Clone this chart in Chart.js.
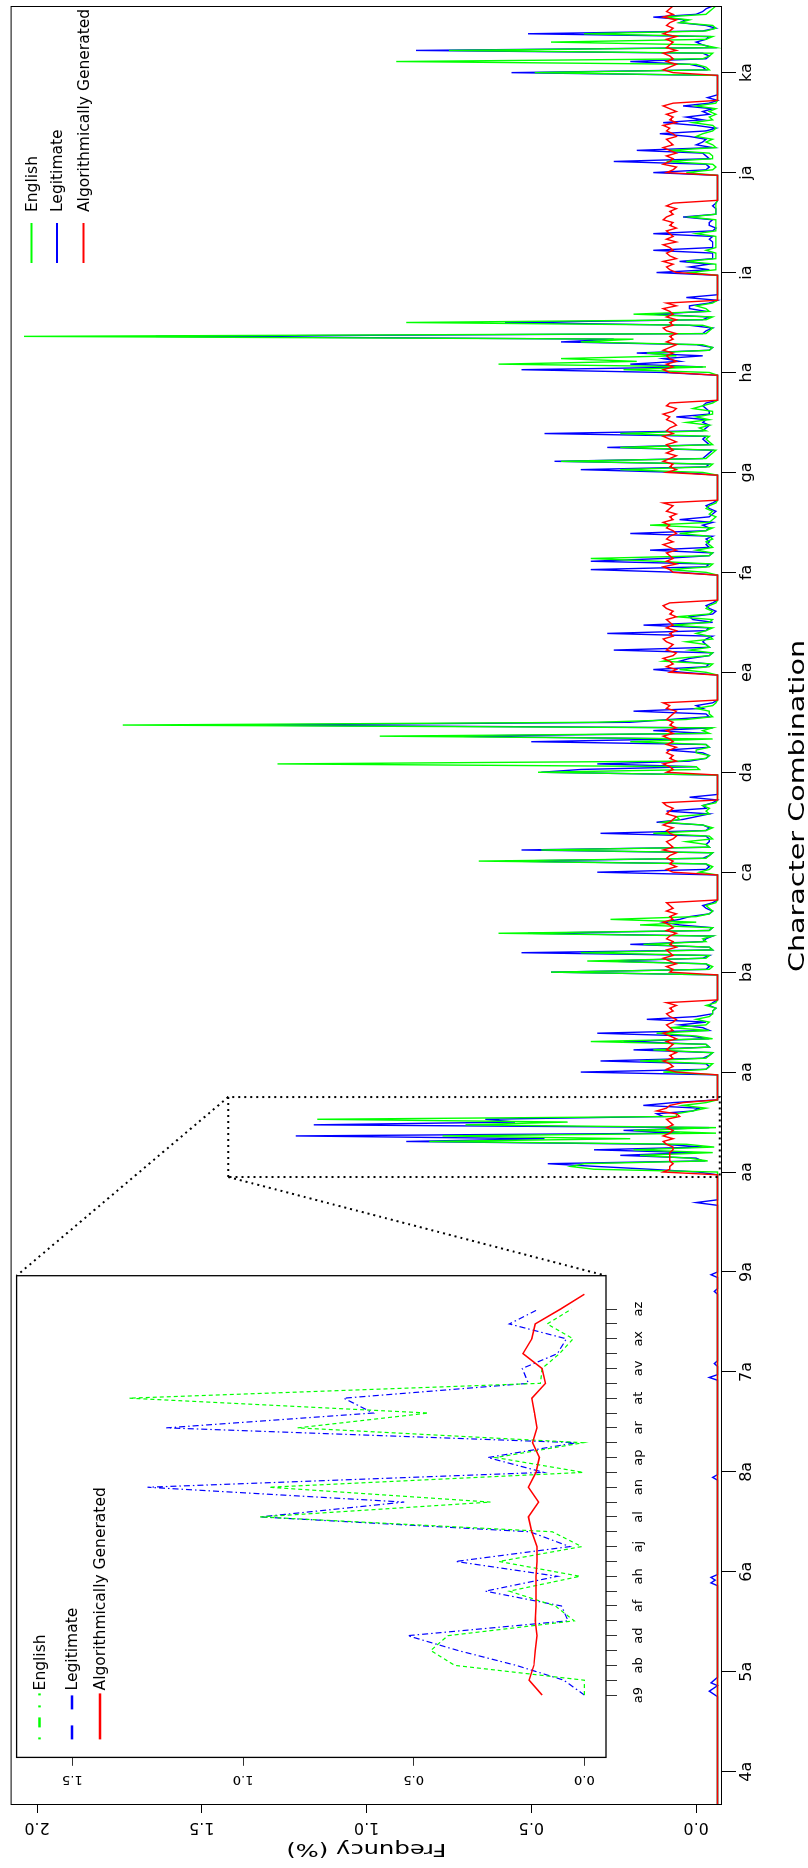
<!DOCTYPE html>
<html>
<head>
<meta charset="utf-8">
<script src="https://cdn.jsdelivr.net/npm/chart.js@4.4.1/dist/chart.umd.min.js"></script>
<style>
  html, body { margin: 0; padding: 0; background: #fff; }
  body { width: 808px; height: 1868px; overflow: hidden; position: relative; }
  #stage { position: absolute; left: 0; top: 0; width: 1868px; height: 808px;
           transform-origin: 0 0; transform: translateY(1868px) rotate(-90deg); }
  #main, #inset { position: absolute; left: 0; top: 0; }
</style>
</head>
<body>
<div id="stage">
  <canvas id="main" width="1868" height="808"></canvas>
  <canvas id="inset" width="700" height="700"></canvas>
</div>
<script>
// main chart: x = combination index, ticks every 36 combinations
const tickIdx = [12, 48, 84, 120, 156, 192, 228, 264, 300, 336, 372, 408, 444, 480, 516, 552, 588, 624];
const tickLabels = ['4a', '5a', '6a', '8a', '7a', '9a', 'aa', 'aa', 'ba', 'ca', 'da', 'ea', 'fa', 'ga', 'ha', 'ia', 'ja', 'ka'];
const yTicks = [0, 0.5, 1, 1.5, 2];
const baseline = -0.065;

// first index of each letter run (Xa..Xz); X0..X9 sit just before it
const blockStart = [228, 264, 300, 336, 372, 408, 444, 480, 516, 552, 588, 624];

const englishLetters = [
  [-0.065, 0.31, 0.38, 0.34, -0.035, 0.02, 0.17, -0.05, 0.19, -0.055, 0.03, 0.81, 0.2, 0.77, -0.06, 0.19, -0.06, 0.7, 0.39, 1.15, 0.06, 0.06, 0.01, -0.03, 0.04, -0.03],
  [0.1, -0.03, -0.04, -0.05, 0.17, -0.03, -0.04, -0.05, 0.13, -0.04, -0.03, 0.32, -0.05, 0.0, 0.12, -0.04, 0.08, -0.03, -0.04, 0.0, -0.04, -0.05, -0.05, -0.06, -0.03, -0.06],
  [0.44, -0.04, -0.05, -0.03, 0.33, -0.03, -0.04, 0.35, -0.05, -0.04, 0.16, -0.03, -0.02, -0.05, 0.6, -0.04, -0.05, 0.17, 0.0, 0.26, 0.0, -0.04, -0.05, -0.04, -0.03, -0.06],
  [-0.01, -0.04, -0.05, -0.03, 0.66, -0.03, -0.04, -0.05, 0.47, -0.04, -0.03, 0.03, -0.05, -0.04, 0.13, -0.03, -0.05, -0.02, 0.1, 0.05, 0.06, -0.04, -0.03, -0.04, -0.02, -0.06],
  [0.48, -0.01, 0.0, 1.27, 0.05, -0.03, -0.04, 0.0, 0.0, -0.04, -0.03, 0.2, -0.05, 0.96, -0.04, -0.02, -0.05, 1.74, 0.3, 0.03, -0.05, -0.04, -0.04, 0.0, -0.05, -0.06],
  [-0.03, 0.05, -0.04, -0.05, 0.1, 0.06, -0.04, -0.05, 0.02, -0.04, -0.03, 0.03, -0.05, -0.04, 0.0, -0.03, -0.05, 0.07, -0.04, -0.05, 0.06, -0.04, -0.05, -0.03, -0.04, -0.06],
  [-0.03, 0.08, -0.04, -0.05, 0.12, 0.32, -0.04, -0.05, 0.0, -0.05, -0.04, -0.03, -0.05, -0.04, 0.05, -0.03, -0.05, 0.14, -0.04, -0.05, -0.06, -0.04, -0.05, -0.03, -0.04, -0.06],
  [-0.02, 0.23, -0.04, -0.05, 0.41, -0.03, -0.04, -0.05, -0.06, 0.23, -0.05, -0.04, -0.03, -0.04, 0.23, -0.03, -0.01, -0.04, 0.03, -0.04, 0.0, -0.05, -0.05, 0.01, -0.02, -0.05],
  [-0.04, 0.22, -0.03, 0.6, 0.18, 0.41, 0.06, 0.15, -0.04, -0.05, -0.02, 0.35, 0.19, 2.04, -0.03, -0.04, -0.05, -0.02, 0.88, -0.03, -0.05, 0.19, -0.04, -0.03, 0.0, -0.05],
  [0.02, -0.06, -0.06, -0.06, 0.03, -0.06, -0.06, -0.06, -0.03, -0.06, -0.06, -0.06, -0.06, -0.06, 0.0, -0.06, -0.06, -0.06, -0.06, -0.06, 0.02, -0.06, -0.06, -0.06, -0.06, -0.06],
  [0.03, -0.05, -0.06, -0.05, 0.09, -0.05, -0.05, -0.04, 0.08, -0.06, -0.05, -0.03, -0.05, 0.0, -0.02, -0.05, -0.06, -0.05, 0.01, -0.05, -0.04, -0.06, -0.04, -0.06, 0.0, -0.06],
  [0.49, -0.04, -0.03, 0.0, 0.91, -0.02, -0.04, -0.05, 0.75, -0.06, -0.02, 0.44, -0.03, -0.05, 0.34, -0.03, -0.06, -0.05, 0.05, 0.02, 0.1, -0.03, -0.04, -0.05, -0.06]
];

const legitLetters = [
  [-0.005, 0.14, 0.3, 0.45, -0.02, 0.0, 0.23, 0.01, 0.31, -0.02, 0.1, 0.88, 0.46, 1.215, 0.05, 0.22, -0.04, 1.16, 0.55, 0.64, 0.1, 0.12, 0.01, -0.01, 0.16, 0.07],
  [0.35, -0.03, -0.04, -0.03, 0.29, -0.02, -0.04, -0.05, 0.19, -0.04, -0.03, 0.22, -0.04, 0.02, 0.3, -0.04, -0.02, 0.05, -0.03, 0.15, 0.0, -0.05, -0.05, -0.06, -0.04, -0.05],
  [0.44, -0.03, -0.04, -0.03, 0.27, -0.02, -0.04, 0.53, -0.05, -0.04, 0.2, -0.02, -0.03, -0.05, 0.51, -0.04, -0.05, 0.05, 0.1, 0.05, 0.02, -0.04, -0.05, -0.03, -0.02, -0.05],
  [0.3, -0.03, -0.04, -0.03, 0.58, -0.02, -0.04, -0.05, 0.53, -0.04, -0.03, -0.04, -0.04, -0.03, 0.29, -0.03, -0.04, -0.02, 0.12, 0.04, 0.0, -0.04, 0.09, -0.03, -0.02, -0.05],
  [0.47, 0.35, 0.0, 0.3, 0.02, -0.03, -0.04, -0.02, 0.09, -0.04, -0.03, 0.5, 0.05, 0.75, -0.03, 0.13, -0.05, 1.4, 0.2, 0.08, -0.04, -0.03, 0.19, -0.02, 0.0, -0.05],
  [0.04, 0.13, -0.03, -0.04, 0.05, 0.02, -0.04, -0.05, 0.25, -0.04, -0.03, -0.02, -0.03, -0.05, 0.27, -0.03, -0.04, 0.16, -0.05, 0.01, 0.02, -0.05, -0.06, -0.04, -0.03, -0.05],
  [0.05, 0.32, -0.03, -0.04, 0.32, 0.1, -0.04, -0.05, 0.14, -0.04, -0.03, -0.04, -0.03, -0.05, 0.2, -0.03, -0.04, -0.02, -0.05, 0.05, -0.04, -0.05, -0.06, -0.04, -0.03, -0.05],
  [0.05, 0.35, -0.03, -0.04, 0.43, -0.02, -0.03, -0.04, -0.05, 0.27, -0.04, -0.03, -0.02, -0.03, 0.46, -0.02, -0.03, -0.04, -0.02, -0.03, 0.06, -0.04, -0.04, -0.03, -0.02, -0.03],
  [0.1, 0.53, -0.02, 0.2, 0.05, 0.1, -0.02, 0.18, -0.04, -0.05, 0.0, 0.41, 0.25, 1.64, -0.02, -0.03, -0.05, 0.02, 0.58, -0.02, -0.04, 0.13, -0.03, 0.02, 0.02, -0.04],
  [0.12, -0.04, 0.02, -0.04, 0.05, -0.05, -0.05, -0.05, 0.13, -0.05, -0.05, -0.05, -0.04, -0.05, 0.13, -0.05, -0.06, -0.04, -0.04, -0.05, 0.04, -0.06, -0.06, -0.06, -0.05, -0.06],
  [0.13, -0.03, -0.04, -0.03, 0.25, -0.04, -0.03, -0.02, 0.18, -0.05, 0.0, -0.02, -0.03, 0.02, 0.11, -0.03, -0.06, 0.0, 0.1, -0.02, 0.03, -0.04, -0.02, -0.05, 0.04, -0.04],
  [0.56, -0.03, -0.02, 0.02, 0.2, -0.03, -0.04, -0.02, 0.85, -0.05, -0.02, 0.0, -0.03, -0.04, 0.51, -0.02, -0.06, -0.03, 0.05, 0.03, 0.13, 0.0, -0.02, -0.03, -0.05]
];

const algoLetters = [
  [0.1, 0.08, 0.08, 0.07, 0.08, 0.08, 0.08, 0.08, 0.07, 0.07, 0.09, 0.1, 0.07, 0.1, 0.08, 0.07, 0.09, 0.07, 0.08, 0.09, 0.05, 0.06, 0.12, 0.09, 0.08, 0.04],
  [0.06, 0.09, 0.07, 0.08, 0.1, 0.07, 0.08, 0.06, 0.09, 0.08, 0.07, 0.09, 0.06, 0.08, 0.1, 0.07, 0.08, 0.09, 0.07, 0.06, 0.08, 0.09, 0.07, 0.08, 0.06, 0.09],
  [0.08, 0.07, 0.09, 0.06, 0.08, 0.1, 0.07, 0.08, 0.09, 0.06, 0.08, 0.07, 0.09, 0.08, 0.06, 0.09, 0.07, 0.08, 0.1, 0.07, 0.08, 0.06, 0.09, 0.07, 0.08, 0.09],
  [0.07, 0.09, 0.06, 0.08, 0.07, 0.09, 0.08, 0.06, 0.1, 0.07, 0.08, 0.09, 0.07, 0.06, 0.08, 0.09, 0.07, 0.1, 0.08, 0.07, 0.06, 0.09, 0.08, 0.07, 0.09, 0.1],
  [0.09, 0.07, 0.08, 0.1, 0.06, 0.08, 0.07, 0.09, 0.08, 0.06, 0.09, 0.07, 0.08, 0.1, 0.07, 0.09, 0.06, 0.08, 0.07, 0.09, 0.08, 0.07, 0.06, 0.09, 0.08, 0.1],
  [0.08, 0.06, 0.09, 0.07, 0.08, 0.1, 0.07, 0.06, 0.09, 0.08, 0.07, 0.09, 0.1, 0.07, 0.08, 0.06, 0.09, 0.07, 0.08, 0.09, 0.06, 0.08, 0.07, 0.09, 0.1, 0.08],
  [0.07, 0.08, 0.1, 0.06, 0.09, 0.07, 0.08, 0.09, 0.06, 0.08, 0.1, 0.07, 0.09, 0.08, 0.06, 0.07, 0.09, 0.08, 0.1, 0.07, 0.08, 0.06, 0.09, 0.08, 0.07, 0.1],
  [0.09, 0.06, 0.08, 0.07, 0.1, 0.08, 0.06, 0.09, 0.07, 0.08, 0.09, 0.06, 0.08, 0.1, 0.07, 0.09, 0.08, 0.06, 0.07, 0.09, 0.08, 0.1, 0.07, 0.06, 0.09, 0.08],
  [0.08, 0.1, 0.07, 0.09, 0.06, 0.08, 0.09, 0.07, 0.1, 0.08, 0.06, 0.09, 0.07, 0.08, 0.06, 0.09, 0.1, 0.07, 0.08, 0.06, 0.09, 0.07, 0.08, 0.1, 0.06, 0.09],
  [0.06, 0.08, 0.09, 0.07, 0.1, 0.06, 0.08, 0.09, 0.07, 0.08, 0.1, 0.06, 0.09, 0.07, 0.08, 0.09, 0.06, 0.08, 0.07, 0.1, 0.09, 0.07, 0.08, 0.06, 0.09, 0.07],
  [0.09, 0.07, 0.06, 0.1, 0.08, 0.07, 0.09, 0.06, 0.08, 0.1, 0.07, 0.08, 0.09, 0.06, 0.07, 0.09, 0.08, 0.1, 0.06, 0.08, 0.07, 0.09, 0.06, 0.08, 0.1, 0.07],
  [0.07, 0.1, 0.08, 0.06, 0.09, 0.07, 0.08, 0.1, 0.06, 0.09, 0.08, 0.07, 0.09, 0.06, 0.1, 0.08, 0.07, 0.09, 0.08, 0.06, 0.1, 0.07, 0.09, 0.08, 0.07]
];

// small blue bumps where the other series stay flat
const legitDigitBumps = [
  [39, -0.065], [41, -0.04], [43, -0.065], [44, -0.045], [46, -0.065],
  [79, -0.065], [80, -0.045], [81, -0.058], [82, -0.045], [83, -0.065],
  [117, -0.065], [118, -0.05], [119, -0.065],
  [153, -0.065], [154, -0.04], [155, -0.065], [158, -0.065], [159, -0.055], [160, -0.065],
  [184, -0.065], [185, -0.055], [186, -0.065], [190, -0.065], [191, -0.045], [192, -0.065],
  [216, -0.065], [217, 0.0],
  [363, 0.02], [364, -0.065],
  [543, 0.03], [544, -0.065],
  [615, -0.035], [616, -0.065]
];

// zoomed region a9..az (plus the next red point)
const insetLabels = ['a9', 'aa', 'ab', 'ac', 'ad', 'ae', 'af', 'ag', 'ah', 'ai', 'aj', 'ak', 'al', 'am', 'an', 'ao', 'ap', 'aq', 'ar', 'as', 'at', 'au', 'av', 'aw', 'ax', 'ay', 'az'];
const insetEnglish = [0.0, 0.0, 0.38, 0.45, 0.4, 0.03, 0.085, 0.22, 0.013, 0.25, 0.008, 0.094, 0.95, 0.275, 0.924, 0.003, 0.26, 0.003, 0.84, 0.457, 1.334, 0.129, 0.124, 0.073, 0.033, 0.109, 0.038];
const insetLegit = [0.0, 0.06, 0.2, 0.37, 0.518, 0.048, 0.067, 0.29, 0.079, 0.377, 0.043, 0.16, 0.95, 0.528, 1.28, 0.119, 0.283, 0.023, 1.225, 0.619, 0.705, 0.164, 0.182, 0.079, 0.053, 0.22, 0.134];
const insetAlgo = [0.124, 0.162, 0.148, 0.144, 0.139, 0.144, 0.142, 0.142, 0.142, 0.139, 0.139, 0.154, 0.164, 0.134, 0.164, 0.142, 0.132, 0.152, 0.139, 0.146, 0.154, 0.114, 0.124, 0.18, 0.154, 0.144, 0.07, 0.0];
const insetTicks = [0, 0.5, 1, 1.5];

// region of the main chart shown in the inset
const zoomBox = { from: 226.2, to: 255, low: -0.072, high: 1.42 };

const FONT = 'DejaVu Sans';
const GREEN = '#00ff00', BLUE = '#0000ff', RED = '#ff0000';

function buildSeries(letters, bumps) {
  const pts = [{ x: 0, y: baseline }];
  bumps.forEach(([x, y]) => pts.push({ x, y }));
  blockStart.forEach((s, b) => {
    pts.push({ x: s - 10, y: baseline }, { x: s - 1, y: baseline });
    letters[b].forEach((v, j) => pts.push({ x: s + j, y: v }));
  });
  return pts.sort((a, b) => a.x - b.x);
}

function drawLegend(ctx, items, x0, len, textX, rows, font) {
  ctx.save();
  ctx.font = font;
  ctx.textBaseline = 'middle';
  ctx.fillStyle = '#000';
  items.forEach((it, i) => {
    ctx.beginPath();
    ctx.strokeStyle = it.color;
    ctx.lineWidth = it.width;
    ctx.setLineDash(it.dash || []);
    ctx.moveTo(x0, rows[i]);
    ctx.lineTo(x0 + len, rows[i]);
    ctx.stroke();
    ctx.fillText(it.text, textX, rows[i] + 1);
  });
  ctx.restore();
}

// axis titles in the original are set in a wide face; stretch DejaVu to match
function drawWideText(ctx, text, x, y, angle, size, stretch) {
  ctx.save();
  ctx.translate(x, y);
  ctx.rotate(angle);
  ctx.scale(stretch, 1);
  ctx.font = size + 'px "DejaVu Sans"';
  ctx.fillStyle = '#000';
  ctx.textAlign = 'center';
  ctx.textBaseline = 'alphabetic';
  ctx.fillText(text, 0, 0);
  ctx.restore();
}

const insetDecor = {
  id: 'insetDecor',
  beforeDraw(chart) {
    const { ctx, chartArea: a } = chart;
    ctx.save();
    ctx.fillStyle = '#fff';
    ctx.fillRect(a.left, a.top, a.right - a.left, a.bottom - a.top);
    ctx.restore();
  },
  afterDraw(chart) {
    const { ctx, chartArea: a } = chart;
    ctx.save();
    ctx.strokeStyle = '#000';
    ctx.lineWidth = 1.3;
    ctx.strokeRect(a.left, a.top, a.right - a.left, a.bottom - a.top);
    ctx.restore();
    drawLegend(ctx, [
      { text: 'English', color: GREEN, width: 2.5, dash: [2, 10, 10, 10] },
      { text: 'Legitimate', color: BLUE, width: 2.5, dash: [14, 16] },
      { text: 'Algorithmically Generated', color: RED, width: 2.5 }
    ], a.left + 18, 46, a.left + 67, [a.top + 23, a.top + 55.5, a.top + 83.5], '15.5px "DejaVu Sans"');
  }
};

const insetChart = new Chart(document.getElementById('inset'), {
  type: 'line',
  data: {
    datasets: [
      { label: 'English', data: insetEnglish.map((v, i) => ({ x: i, y: v })), borderColor: GREEN, borderDash: [4, 3], borderWidth: 1.2, order: 1 },
      { label: 'Legitimate', data: insetLegit.map((v, i) => ({ x: i, y: v })), borderColor: BLUE, borderDash: [6, 3, 1.5, 3], borderWidth: 1.2, order: 2 },
      { label: 'Algorithmically Generated', data: insetAlgo.map((v, i) => ({ x: i, y: v })), borderColor: RED, borderWidth: 1.5, order: 0 }
    ]
  },
  options: {
    responsive: false,
    animation: false,
    devicePixelRatio: 1,
    layout: { padding: { top: 16.6, right: 107.7, left: 0, bottom: 0 } },
    elements: { point: { radius: 0 }, line: { tension: 0 } },
    plugins: { legend: { display: false }, tooltip: { enabled: false } },
    scales: {
      x: {
        type: 'linear', min: -4.2, max: 28.25,
        afterBuildTicks: s => { s.ticks = insetLabels.map((_, i) => ({ value: i })); },
        afterFit: s => { s.height = 94; },
        grid: { drawOnChartArea: false, tickLength: 11, color: '#333' },
        border: { display: false },
        ticks: {
          autoSkip: false, maxRotation: 0, minRotation: 0, padding: 14, color: '#000',
          font: { family: FONT, size: 13 },
          callback: (v, i) => (i % 2 === 0 ? insetLabels[i] : '')
        }
      },
      y: {
        type: 'linear', min: -0.0633, max: 1.6635,
        afterBuildTicks: s => { s.ticks = insetTicks.map(v => ({ value: v })); },
        afterFit: s => { s.width = 110.6; },
        grid: { drawOnChartArea: false, tickLength: 8.4, color: '#333' },
        border: { display: false },
        ticks: {
          minRotation: 90, maxRotation: 90, crossAlign: 'center', padding: 3, color: '#000',
          font: { family: FONT, size: 13 },
          callback: v => v.toFixed(1)
        }
      }
    }
  },
  plugins: [insetDecor]
});

const mainDecor = {
  id: 'mainDecor',
  beforeDraw(chart) {
    const { ctx, width, height } = chart;
    ctx.save();
    ctx.fillStyle = '#fff';
    ctx.fillRect(0, 0, width, height);
    ctx.restore();
  },
  afterDraw(chart) {
    const { ctx, chartArea: a, scales: { x, y } } = chart;
    ctx.save();
    ctx.strokeStyle = '#000';
    ctx.lineWidth = 1;
    ctx.strokeRect(a.left + 0.5, a.top + 0.5, a.right - a.left - 1, a.bottom - a.top - 1);

    // dotted zoom box and connectors to the inset
    const bx0 = x.getPixelForValue(zoomBox.from), bx1 = x.getPixelForValue(zoomBox.to);
    const by0 = y.getPixelForValue(zoomBox.high), by1 = y.getPixelForValue(zoomBox.low);
    const ia = insetChart.chartArea;
    ctx.lineWidth = 2;
    ctx.setLineDash([2, 4]);
    ctx.strokeRect(bx0, by0, bx1 - bx0, by1 - by0);
    ctx.beginPath();
    ctx.moveTo(bx1, by0); ctx.lineTo(ia.right, ia.top);
    ctx.moveTo(bx0, by0); ctx.lineTo(ia.right, ia.bottom);
    ctx.stroke();
    ctx.restore();

    drawWideText(ctx, 'Character Combination', a.left + 999, 804, 0, 22, 1.3);
    drawWideText(ctx, 'Frequncy (%)', 23.6, (a.top + a.bottom) / 2, -Math.PI / 2, 18.5, 1.31);

    drawLegend(ctx, [
      { text: 'English', color: GREEN, width: 2 },
      { text: 'Legitimate', color: BLUE, width: 2 },
      { text: 'Algorithmically Generated', color: RED, width: 2 }
    ], a.right - 257, 40, a.right - 206, [a.top + 21, a.top + 46.5, a.top + 73], '15.5px "DejaVu Sans"');
  }
};

new Chart(document.getElementById('main'), {
  type: 'line',
  data: {
    datasets: [
      { label: 'English', data: buildSeries(englishLetters, []), borderColor: GREEN, order: 1 },
      { label: 'Legitimate', data: buildSeries(legitLetters, legitDigitBumps), borderColor: BLUE, order: 2 },
      { label: 'Algorithmically Generated', data: buildSeries(algoLetters, []), borderColor: RED, order: 0 }
    ]
  },
  options: {
    responsive: false,
    animation: false,
    devicePixelRatio: 1,
    layout: { padding: { top: 7, right: 6, left: 0, bottom: 0 } },
    elements: { point: { radius: 0 }, line: { tension: 0, borderWidth: 1.4 } },
    plugins: { legend: { display: false }, tooltip: { enabled: false } },
    scales: {
      x: {
        type: 'linear', min: 0, max: 648,
        afterBuildTicks: s => { s.ticks = tickIdx.map(v => ({ value: v })); },
        afterFit: s => { s.height = 86; },
        grid: { drawOnChartArea: false, tickLength: 14, color: '#000' },
        border: { display: false },
        ticks: {
          autoSkip: false, maxRotation: 0, minRotation: 0, padding: 1, color: '#000',
          font: { family: FONT, size: 16 },
          callback: (v, i) => tickLabels[i]
        }
      },
      y: {
        type: 'linear', min: -0.0785, max: 2.0803,
        afterBuildTicks: s => { s.ticks = yTicks.map(v => ({ value: v })); },
        afterFit: s => { s.width = 63; },
        grid: { drawOnChartArea: false, tickLength: 8, color: '#000' },
        border: { display: false },
        ticks: {
          minRotation: 90, maxRotation: 90, crossAlign: 'center', padding: 1, color: '#000',
          font: { family: FONT, size: 16 },
          callback: v => v.toFixed(1)
        }
      }
    }
  },
  plugins: [mainDecor]
});
</script>
</body>
</html>
